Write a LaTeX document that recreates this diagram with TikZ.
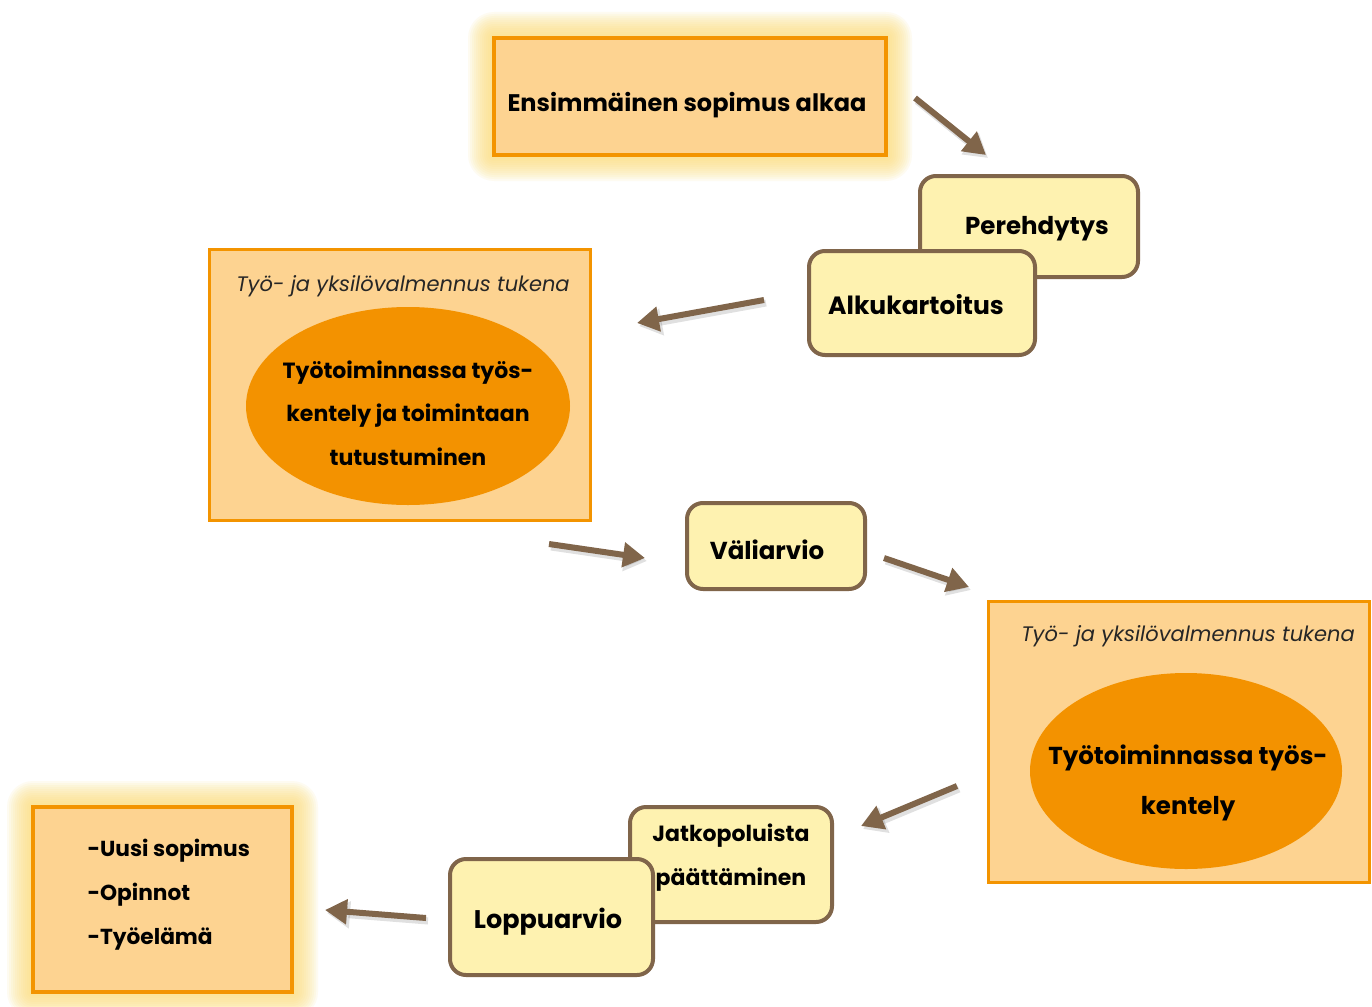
\documentclass[tikz,border=0pt]{standalone}
\usepackage{fontspec}
\setmainfont{Poppins}
\usetikzlibrary{arrows.meta,shapes.geometric}
\definecolor{orborder}{RGB}{243,148,0}
\definecolor{orfill}{RGB}{253,211,145}
\definecolor{ellfill}{RGB}{243,146,0}
\definecolor{yfill}{RGB}{254,242,176}
\definecolor{brownc}{RGB}{128,101,74}
\definecolor{glowc}{RGB}{252,222,120}
\tikzset{
  obox/.style={rectangle, draw=orborder, line width=3.5pt, fill=orfill, inner sep=0pt},
  ybox/.style={rectangle, draw=brownc, line width=4pt, fill=yfill, rounded corners=16pt, inner sep=0pt},
  ell/.style={ellipse, fill=ellfill, draw=none, inner sep=0pt},
  lbl/.style={font=\itshape\fontsize{21}{24}\selectfont, text=black!85},
  btxt/.style={font=\bfseries\fontsize{23}{44}\selectfont, align=left},
  arr/.style={draw=brownc, line width=6pt, -{Triangle[length=22pt,width=24pt]}},
  arrsh/.style={draw=black, opacity=0.12, line width=7pt, -{Triangle[length=23pt,width=26pt]}},
}
\newcommand{\myglow}[4]{%
  \foreach \r in {2,4,...,26}{%
    \fill[glowc, opacity=0.10, rounded corners=\r pt] ({#1-\r},{#2-\r}) rectangle ({#3+\r},{#4+\r});
  }%
}
\begin{document}
\begin{tikzpicture}[x=1pt,y=-1pt]
\useasboundingbox (0,0) rectangle (1372,1006);
\fill[white] (0,0) rectangle (1372,1006);

% glows
\myglow{494}{38}{886}{155}
\myglow{33}{807}{292}{992}

% top box
\node[obox, minimum width=392, minimum height=117] (start) at (690,96.5) {};
\node[btxt, font=\bfseries\fontsize{24}{30}\selectfont] (starttxt) at (687,105) {Ensimmäinen sopimus alkaa};

% Perehdytys / Alkukartoitus
\node[ybox, minimum width=218, minimum height=101] (pere) at (1029,226.5) {};
\node[btxt, font=\bfseries\fontsize{24.5}{30}\selectfont] (peretxt) at (1037,229) {Perehdytys};
\node[ybox, minimum width=226, minimum height=104] (alku) at (922,303) {};
\node[btxt, font=\bfseries\fontsize{25}{30}\selectfont] (alkutxt) at (916,305) {Alkukartoitus};

% left big box
\node[obox, line width=3pt, minimum width=381, minimum height=271] (leftbox) at (399.5,384.5) {};
\node[lbl] (leftlbl) at (403,286) {Työ- ja yksilövalmennus tukena};
\node[ell, minimum width=324, minimum height=198] (leftell) at (408,406) {};
\node[btxt, align=center, font=\bfseries\fontsize{22}{43.5}\selectfont] (lefttxt) at (408,413) {Työtoiminnassa työs-\\kentely ja toimintaan\\tutustuminen};

% Väliarvio
\node[ybox, minimum width=178, minimum height=86] (vali) at (776,546) {};
\node[btxt, font=\bfseries\fontsize{24.5}{30}\selectfont] (valitxt) at (767,550) {Väliarvio};

% right big box
\node[obox, line width=3pt, minimum width=381, minimum height=281] (rightbox) at (1178.5,741.5) {};
\node[lbl] (rightlbl) at (1188,636) {Työ- ja yksilövalmennus tukena};
\node[ell, minimum width=312, minimum height=196] (rightell) at (1186,771) {};
\node[btxt, align=center, font=\bfseries\fontsize{24.5}{50}\selectfont] (righttxt) at (1188,783) {Työtoiminnassa työs-\\kentely};

% Jatkopoluista / Loppuarvio
\node[ybox, minimum width=202, minimum height=115] (jatko) at (731,864.5) {};
\node[btxt, align=center, font=\bfseries\fontsize{22}{44}\selectfont] (jatkotxt) at (731,858) {Jatkopoluista\\päättäminen};
\node[ybox, minimum width=203, minimum height=116] (loppu) at (551.5,917) {};
\node[btxt, font=\bfseries\fontsize{25.5}{30}\selectfont] (lopputxt) at (548,922) {Loppuarvio};

% bottom-left box
\node[obox, minimum width=259, minimum height=185] (endbox) at (162.5,899.5) {};
\node[btxt, anchor=north west, font=\bfseries\fontsize{21.7}{44}\selectfont] (endtxt) at (84,836) {-Uusi sopimus\\-Opinnot\\-Työelämä};

% arrow coordinates
\coordinate (a1s) at (915,98);  \coordinate (a1e) at (986,155);
\coordinate (a2s) at (764,300); \coordinate (a2e) at (637,323);
\coordinate (a3s) at (549,544); \coordinate (a3e) at (645,558);
\coordinate (a4s) at (884,558); \coordinate (a4e) at (969,587);
\coordinate (a5s) at (957,786); \coordinate (a5e) at (861,826);
\coordinate (a6s) at (426,918); \coordinate (a6e) at (325,910);

% shadows
\foreach \s/\e in {a1s/a1e,a2s/a2e,a3s/a3e,a4s/a4e,a5s/a5e,a6s/a6e}{
  \draw[arrsh] ([shift={(2,3)}]\s) -- ([shift={(2,3)}]\e);
}
% arrows
\foreach \s/\e in {a1s/a1e,a2s/a2e,a3s/a3e,a4s/a4e,a5s/a5e,a6s/a6e}{
  \draw[arr] (\s) -- (\e);
}
\end{tikzpicture}
\end{document}
